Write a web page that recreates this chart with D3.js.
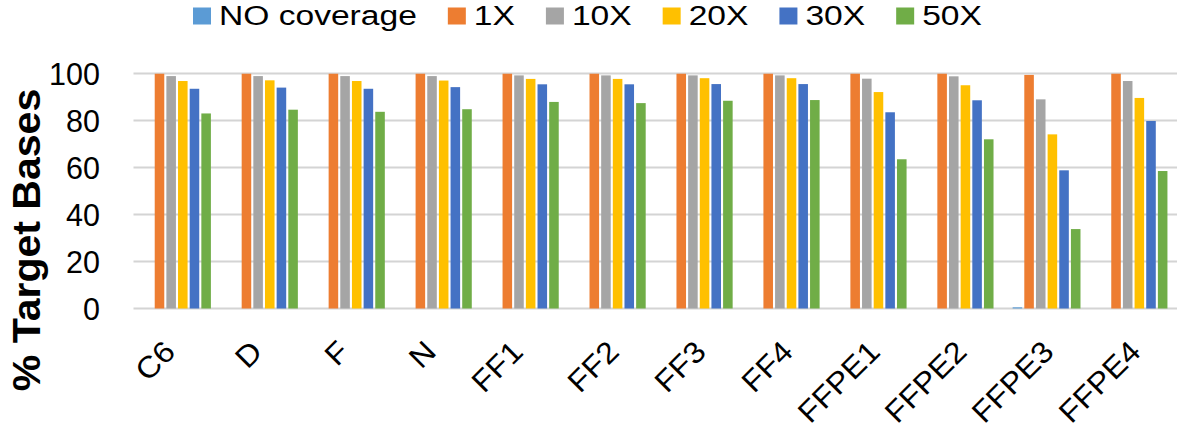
<!DOCTYPE html>
<html>
<head>
<meta charset="utf-8">
<script src="https://cdn.jsdelivr.net/npm/d3@7/dist/d3.min.js"></script>
<style>
  html, body { margin: 0; padding: 0; background: #fff; }
  svg { display: block; font-family: "Liberation Sans", Arial, sans-serif; }
</style>
</head>
<body>
<svg id="chart" width="1180" height="427"></svg>
<script>
// ---- data ----
const categories = ["C6", "D", "F", "N", "FF1", "FF2", "FF3", "FF4", "FFPE1", "FFPE2", "FFPE3", "FFPE4"];
const seriesNames = ["NO coverage", "1X", "10X", "20X", "30X", "50X"];
const seriesColors = ["#5B9BD5", "#ED7D31", "#A5A5A5", "#FFC000", "#4472C4", "#70AD47"];
const noCoverage = [0, 0, 0, 0, 0, 0, 0, 0, 0, 0, 0.5, 0];
const cov1X  = [99.9, 99.9, 99.9, 99.9, 99.9, 99.9, 99.9, 99.9, 99.9, 99.9, 99.4, 99.9];
const cov10X = [98.9, 98.9, 98.9, 98.9, 99.2, 99.2, 99.2, 99.2, 97.8, 98.8, 89.0, 96.8];
const cov20X = [96.8, 97.1, 96.8, 97.0, 97.7, 97.7, 98.0, 98.0, 92.1, 95.0, 74.1, 89.6];
const cov30X = [93.5, 94.0, 93.5, 94.2, 95.4, 95.4, 95.5, 95.5, 83.5, 88.6, 58.8, 79.8];
const cov50X = [83.0, 84.6, 83.7, 84.8, 87.9, 87.4, 88.4, 88.7, 63.5, 72.0, 33.8, 58.5];
const yTicks = [0, 20, 40, 60, 80, 100];
const yTitle = "% Target Bases";

const seriesValues = [noCoverage, cov1X, cov10X, cov20X, cov30X, cov50X];

// ---- layout ----
const L = { left: 133.5, right: 1177, top: 73.5, bottom: 308.5 };
const FONT = "'Liberation Sans', Arial, sans-serif";
const svg = d3.select("#chart");

const x0 = d3.scaleBand().domain(categories).range([L.left, L.right]).padding(0);
const x1 = d3.scaleBand().domain(seriesNames).range([0, x0.bandwidth()])
  .paddingInner(0.18).paddingOuter(0.82);
const y = d3.scaleLinear().domain([0, 100]).range([L.bottom, L.top]);
const color = d3.scaleOrdinal().domain(seriesNames).range(seriesColors);

// gridlines
svg.append("g").selectAll("line").data(yTicks).join("line")
  .attr("x1", L.left).attr("x2", L.right)
  .attr("y1", d => y(d)).attr("y2", d => y(d))
  .attr("stroke", "#d4d4d4").attr("stroke-width", 1.8);

// y axis labels
const yAxis = d3.axisLeft(y).tickValues(yTicks).tickSize(0).tickPadding(0);
const yg = svg.append("g").attr("transform", `translate(100,0)`).call(yAxis);
yg.select(".domain").remove();
yg.selectAll("text").attr("font-size", 30.5).attr("fill", "#000")
  .attr("font-family", FONT).attr("dy", "0.36em");

// bars
const rows = categories.map((c, i) => ({ cat: c, vals: seriesNames.map((s, j) => ({ s, v: seriesValues[j][i] })) }));
const gGroups = svg.append("g").selectAll("g").data(rows).join("g")
  .attr("transform", d => `translate(${x0(d.cat)},0)`);
gGroups.selectAll("rect").data(d => d.vals.filter(e => e.v > 0)).join("rect")
  .attr("x", d => x1(d.s)).attr("width", x1.bandwidth())
  .attr("y", d => y(d.v)).attr("height", d => y(0) - y(d.v))
  .attr("fill", d => color(d.s));

// x axis labels (first five sit a little further left in the reference)
const xAxis = d3.axisBottom(x0).tickSize(0).tickPadding(0);
const xg = svg.append("g").attr("transform", `translate(0,${L.bottom})`).call(xAxis);
xg.select(".domain").remove();
xg.selectAll("text")
  .attr("font-size", 30).attr("fill", "#000")
  .attr("font-family", FONT)
  .attr("text-anchor", "end")
  .attr("dy", 0).attr("y", 0)
  .attr("transform", (d, i) => `translate(${i < 5 ? 0 : 9},45) rotate(-45) scale(1.08,1)`);

// y title
svg.append("text")
  .attr("transform", `translate(40,240) rotate(-90) scale(1.08,1)`)
  .attr("text-anchor", "middle")
  .attr("font-family", FONT)
  .attr("font-size", 38).attr("font-weight", "bold").attr("fill", "#000")
  .text(yTitle);

// legend (flow layout)
const LEG = { x: 193, sqW: 18, sqH: 17, sqY: 7.5, textDx: 26, gap: 31, fs: 28, sx: 1.2, base: 25 };
const lg = svg.append("g");
let cx = LEG.x;
seriesNames.forEach((name) => {
  const g = lg.append("g").attr("transform", `translate(${cx},0)`);
  g.append("rect").attr("x", 0).attr("y", LEG.sqY).attr("width", LEG.sqW).attr("height", LEG.sqH)
    .attr("fill", color(name));
  const t = g.append("text").attr("transform", `translate(${LEG.textDx},${LEG.base}) scale(${LEG.sx},1)`)
    .attr("font-family", FONT).attr("font-size", LEG.fs).attr("fill", "#000").text(name);
  const w = t.node().getComputedTextLength() * LEG.sx;
  cx += LEG.textDx + w + LEG.gap;
});
</script>
</body>
</html>
